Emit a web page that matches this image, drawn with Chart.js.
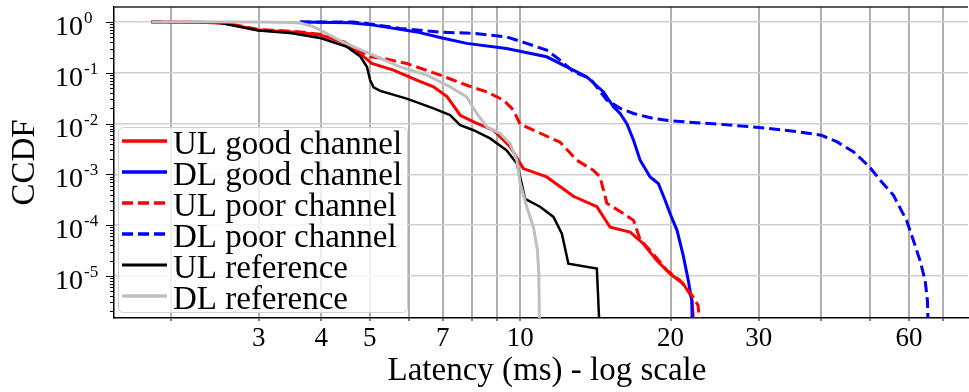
<!doctype html>
<html>
<head>
<meta charset="utf-8">
<title>Latency CCDF</title>
<script src="https://cdn.jsdelivr.net/npm/chart.js@4"></script>
<style>
    html, body {margin: 0; padding: 0; background: #fff}
    canvas {display: block}
</style>
</head>
<body>
<canvas id="chart" width="969" height="392"></canvas>
<script>
// [latency ms, ccdf]
let ulGood = [[1.83, 1], [2.3, 0.99], [2.57, 0.95], [2.98, 0.70], [3.63, 0.62], [4.0, 0.55], [4.43, 0.40],
    [4.86, 0.21], [5.05, 0.153], [5.58, 0.113], [6.21, 0.072], [6.71, 0.053], [7.14, 0.034], [7.59, 0.0146],
    [8.07, 0.0108], [8.84, 0.0074], [9.55, 0.0035], [10.15, 0.0013], [11.3, 0.00089], [12.78, 0.00037],
    [14.24, 0.00023], [15.14, 9.1e-5], [16.6, 7.3e-5], [17.64, 4.3e-5], [18.77, 2.0e-5], [19.95, 1.1e-5],
    [21.2, 7.0e-6], [22.05, 3.8e-6], [22.28, 1e-6]]
let dlGood = [[3.63, 1], [4.57, 0.97], [5.09, 0.87], [6.21, 0.64], [7.02, 0.48], [7.82, 0.38], [9.39, 0.30],
    [11.3, 0.207], [12.4, 0.131], [13.6, 0.083], [14.68, 0.042], [15.37, 0.0214], [15.85, 0.0158],
    [16.35, 0.0100], [16.86, 0.0047], [17.38, 0.0019], [18.2, 0.00089], [18.9, 0.00066], [19.5, 0.00031],
    [19.95, 0.000169], [20.6, 7.9e-5], [21.2, 2.5e-5], [21.7, 8.1e-6], [22.05, 3.2e-6], [22.1, 1e-6]]
let ulPoor = [[1.83, 1], [2.3, 0.99], [2.57, 0.96], [2.98, 0.72], [3.63, 0.64], [4.0, 0.57], [4.43, 0.41],
    [4.86, 0.245], [5.0, 0.207], [5.33, 0.192], [5.93, 0.153], [6.92, 0.090], [7.82, 0.057], [8.58, 0.042],
    [9.26, 0.029], [9.70, 0.0184], [10.0, 0.0097], [10.63, 0.0074], [12.02, 0.0043], [12.98, 0.0019],
    [14.02, 0.0012], [14.45, 0.00089], [14.68, 0.00049], [14.91, 0.00027], [16.1, 0.000169], [16.86, 0.000124],
    [17.38, 5.2e-5], [18.47, 2.7e-5], [19.65, 1.3e-5], [20.9, 8.1e-6], [22.2, 3.8e-6], [22.7, 2.6e-6], [22.9, 1e-6]]
let dlPoor = [[3.63, 1], [4.64, 1], [4.94, 0.94], [5.75, 0.75], [6.92, 0.63], [8.07, 0.60], [9.39, 0.51],
    [10.31, 0.38], [11.3, 0.28], [12.02, 0.178], [12.78, 0.105], [13.8, 0.078], [14.91, 0.029], [15.85, 0.020],
    [16.86, 0.0158], [18.47, 0.0126], [20.0, 0.0113], [25.1, 0.0097], [30.0, 0.0084], [35.2, 0.0071],
    [40, 0.0059], [43.0, 0.0044], [46.4, 0.0028], [50, 0.0014], [52.5, 0.00077], [55.8, 0.00039],
    [59.3, 0.000124], [61.2, 5.0e-5], [63.1, 2.0e-5], [64.6, 8.1e-6], [65.3, 3.2e-6], [65.5, 1e-6]]
let ulRef = [[1.83, 1], [2.5, 0.97], [3.0, 0.68], [3.5, 0.60], [4.0, 0.48], [4.49, 0.33], [4.79, 0.21],
    [4.94, 0.13], [5.01, 0.072], [5.09, 0.052], [5.25, 0.044], [5.93, 0.031], [6.71, 0.020], [7.24, 0.0147],
    [7.59, 0.0093], [8.07, 0.0074], [8.71, 0.0051], [9.39, 0.0030], [9.85, 0.00163], [10.0, 0.00089],
    [10.23, 0.00033], [10.96, 0.00023], [11.66, 0.000145], [12.12, 6.8e-5], [12.49, 1.74e-5], [14.24, 1.39e-5],
    [14.41, 1e-6]]
let dlRef = [[1.83, 1], [3.0, 1], [3.47, 0.98], [3.63, 0.955], [3.85, 0.82], [4.0, 0.68], [4.43, 0.40],
    [5.0, 0.24], [5.75, 0.131], [6.51, 0.090], [7.24, 0.053], [7.82, 0.0336], [8.19, 0.0158], [8.58, 0.0086],
    [9.12, 0.0064], [9.55, 0.0040], [9.85, 0.0019], [10.0, 0.00066], [10.31, 0.00023], [10.63, 9.1e-5],
    [10.83, 3.2e-5], [10.9, 1.1e-5], [10.93, 1e-6]]

let seriesNames = ['UL good channel', 'DL good channel', 'UL poor channel', 'DL poor channel', 'UL reference', 'DL reference']
let seriesData = [ulGood, dlGood, ulPoor, dlPoor, ulRef, dlRef]
let seriesColors = ['#ff0000', '#0000ff', '#ff0000', '#0000ff', '#000000', '#bfbfbf']
let seriesDashed = [false, false, true, true, false, false]
let seriesWidths = [3, 3, 3, 3, 2.5, 3]

let xGridValues = [2, 3, 4, 5, 6, 7, 8, 9, 10, 20, 30, 40, 50, 60, 70]
let xTickLabels = [3, 4, 5, 7, 10, 20, 30, 60]
let yDecades = [0, -1, -2, -3, -4, -5]
let xTitle = 'Latency (ms) - log scale'
let yTitle = 'CCDF'

let serif = '"Liberation Serif", "Times New Roman", serif'

let isDecade = v => Math.abs(Math.log10(v) - Math.round(Math.log10(v))) < 1e-9

let datasets = seriesData.map((points, i) => ({
    label: seriesNames[i],
    data: points.map(p => ({x: p[0], y: p[1]})),
    borderColor: seriesColors[i],
    borderWidth: seriesWidths[i],
    borderDash: seriesDashed[i] ? [11, 5] : [],
    pointRadius: 0,
    tension: 0,
    fill: false,
    order: seriesData.length - i
}))

// y labels as 10 with a raised exponent, plus long and short tick marks
let yAxisLabels = {
    id: 'yAxisLabels',
    afterDraw(chart) {
        let {ctx, chartArea} = chart
        let scale = chart.scales.y
        ctx.save()
        ctx.fillStyle = '#000'
        ctx.textAlign = 'left'
        ctx.textBaseline = 'alphabetic'
        for (let exp of yDecades) {
            let py = scale.getPixelForValue(Math.pow(10, exp))
            ctx.font = '28px ' + serif
            ctx.fillText('10', 55, py + 13)
            let w = ctx.measureText('10').width
            ctx.font = '17px ' + serif
            ctx.fillText(exp === 0 ? '0' : '-' + (-exp), 55 + w + 1, py + 1)
        }
        ctx.strokeStyle = '#000'
        ctx.lineWidth = 1
        for (let t of scale.ticks) {
            let py = Math.round(scale.getPixelForValue(t.value)) + 0.5
            let len = isDecade(t.value) ? 8 : 4
            ctx.beginPath()
            ctx.moveTo(chartArea.left - len, py)
            ctx.lineTo(chartArea.left, py)
            ctx.stroke()
        }
        // top spine
        ctx.strokeStyle = '#222'
        ctx.lineWidth = 1.5
        ctx.beginPath()
        ctx.moveTo(chartArea.left, chartArea.top)
        ctx.lineTo(chartArea.right, chartArea.top)
        ctx.stroke()
        // x title, centred a little right of the plot centre as in the picture
        ctx.font = '33px ' + serif
        ctx.textAlign = 'center'
        ctx.fillText(xTitle, 547, 380)
        ctx.restore()
    }
}

let legendBox = {
    id: 'legendBox',
    afterDatasetsDraw(chart) {
        let {ctx, chartArea} = chart
        let left = chartArea.left + 4
        let top = chartArea.top + 120
        let width = 289
        let height = 185
        ctx.save()
        ctx.beginPath()
        ctx.roundRect(left + 0.5, top + 0.5, width, height, 5)
        ctx.fillStyle = 'rgba(255,255,255,0.8)'
        ctx.fill()
        ctx.strokeStyle = '#d0d0d0'
        ctx.lineWidth = 1
        ctx.stroke()
        ctx.font = '33px ' + serif
        ctx.textAlign = 'left'
        ctx.textBaseline = 'middle'
        chart.data.datasets.forEach((ds, i) => {
            let y = top + 14 + i * 31
            ctx.strokeStyle = ds.borderColor
            ctx.lineWidth = ds.borderWidth + 0.5
            ctx.setLineDash(ds.borderDash)
            ctx.beginPath()
            ctx.moveTo(left + 4, y)
            ctx.lineTo(left + 49, y)
            ctx.stroke()
            ctx.setLineDash([])
            ctx.fillStyle = '#000'
            ctx.fillText(ds.label, left + 55, y + 4)
        })
        ctx.restore()
    }
}

new Chart(document.getElementById('chart'), {
    type: 'line',
    data: {datasets},
    options: {
        responsive: false,
        animation: false,
        layout: {padding: {top: 7, right: 1, left: 0, bottom: 0}},
        plugins: {legend: {display: false}, tooltip: {enabled: false}},
        scales: {
            x: {
                type: 'logarithmic',
                min: 1.54,
                max: 78.7,
                afterBuildTicks: scale => { scale.ticks = xGridValues.map(v => ({value: v})) },
                afterFit: scale => { scale.height = 74 },
                ticks: {
                    autoSkip: false,
                    maxRotation: 0,
                    padding: 2,
                    color: '#000',
                    font: {family: serif, size: 27},
                    callback: v => xTickLabels.includes(v) ? String(v) : ''
                },
                grid: {color: '#b0b0b0', lineWidth: 2, tickColor: '#000', tickLength: 3, tickWidth: 1},
                border: {color: '#000', width: 1.5},
                title: {display: false}
            },
            y: {
                type: 'logarithmic',
                min: 1.48e-6,
                max: 1.98,
                afterBuildTicks: scale => {
                    let ticks = []
                    for (let k = -6; k <= 0; k++) {
                        for (let m = 1; m <= 9; m++) {
                            let v = m * Math.pow(10, k)
                            if (v >= scale.min && v <= scale.max) ticks.push({value: v})
                        }
                    }
                    scale.ticks = ticks
                },
                afterFit: scale => { scale.width = 114 },
                ticks: {display: false},
                grid: {
                    color: c => c.tick && isDecade(c.tick.value) ? '#d0d0d0' : 'rgba(0,0,0,0)',
                    lineWidth: 1.5,
                    drawTicks: false
                },
                border: {color: '#000', width: 1.5},
                title: {
                    display: true,
                    text: yTitle,
                    color: '#000',
                    font: {family: serif, size: 33},
                    padding: {top: 6, bottom: 0}
                }
            }
        }
    },
    plugins: [legendBox, yAxisLabels]
})
</script>
</body>
</html>
